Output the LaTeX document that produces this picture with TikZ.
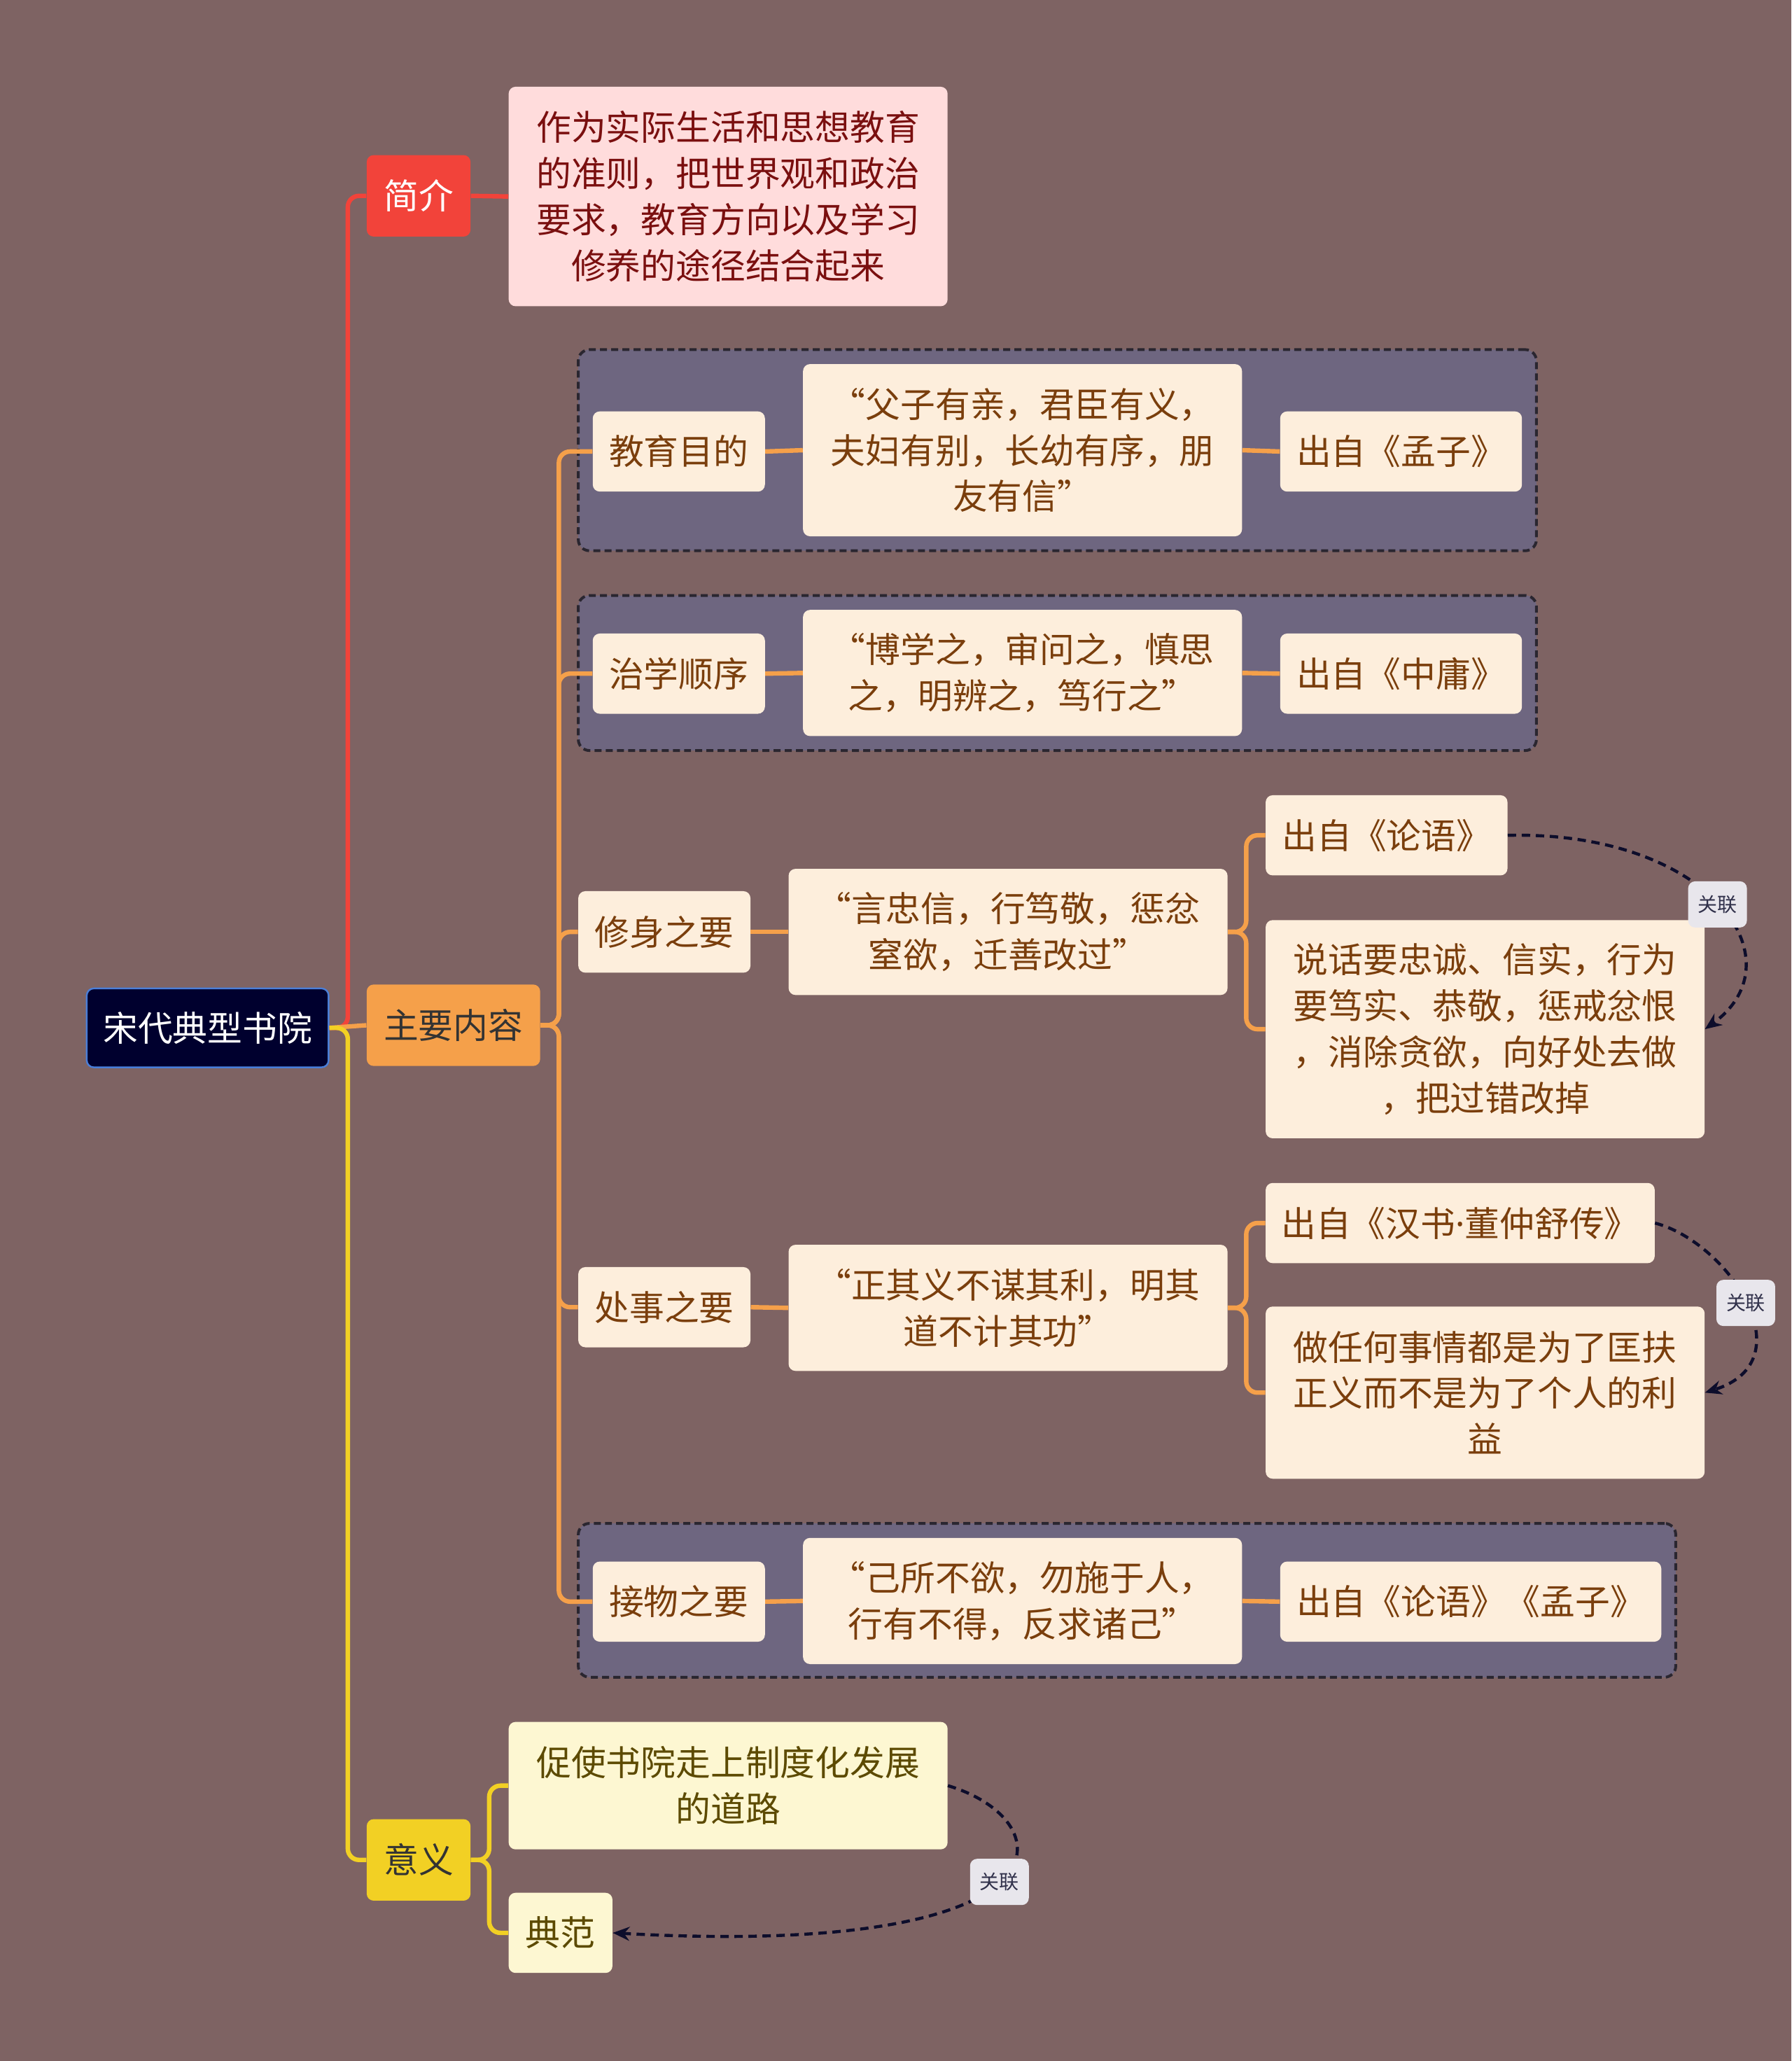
\documentclass[tikz,border=0pt]{standalone}
\usepackage{fontspec}
\setmainfont{Noto Sans CJK SC}
\newfontfamily\dotfont{Noto Sans}
\usetikzlibrary{arrows.meta}
\definecolor{bg}{HTML}{7E6363}
\definecolor{framefill}{HTML}{6E6680}
\definecolor{framedraw}{HTML}{2A2630}
\definecolor{cream}{HTML}{FDEEDC}
\definecolor{brown}{HTML}{7A3E0C}
\definecolor{pinkfill}{HTML}{FFDCDC}
\definecolor{darkred}{HTML}{7A0F0F}
\definecolor{lyellow}{HTML}{FDF7D2}
\definecolor{olive}{HTML}{5C4A00}
\definecolor{rootfill}{HTML}{00002E}
\definecolor{rootdraw}{HTML}{4A7ED8}
\definecolor{redc}{HTML}{F2433A}
\definecolor{orangec}{HTML}{F5A04A}
\definecolor{yellowc}{HTML}{F2D024}
\definecolor{relc}{HTML}{0D0D2B}
\definecolor{relfill}{HTML}{E8E6EC}
\begin{document}
\begin{tikzpicture}[x=0.939pt,y=-0.939pt,
  area/.style n args={4}{at={({(#1+#3)/2},{(#2+#4)/2})},
    minimum width={(#3-#1)*0.939pt}, minimum height={(#4-#2)*0.939pt}},
  base/.style={rounded corners=5pt, inner sep=0pt, align=center,
    font=\fontsize{24.9}{32.9}\selectfont},
  rootbox/.style={base, fill=rootfill, draw=rootdraw, line width=1.2pt, text=white},
  redbox/.style={base, fill=redc, text=white},
  orangebox/.style={base, fill=orangec, text=black!80},
  yellowbox/.style={base, fill=yellowc, text=black!80},
  pinkbox/.style={base, fill=pinkfill, text=darkred},
  creambox/.style={base, fill=cream, text=brown},
  ybox/.style={base, fill=lyellow, text=olive},
  groupframe/.style={rounded corners=8pt, inner sep=0pt, fill=framefill, draw=framedraw,
    line width=2pt, dash pattern=on 5pt off 3pt},
  rline/.style={draw=redc, line width=3.2pt, rounded corners=8pt},
  oline/.style={draw=orangec, line width=3.2pt, rounded corners=8pt},
  yline/.style={draw=yellowc, line width=3.2pt, rounded corners=8pt},
  relline/.style={draw=relc, line width=2.2pt, dash pattern=on 6pt off 4pt,
    -{Stealth[length=12pt,width=10pt]}},
  rellabel/.style={fill=relfill, rounded corners=5pt, inner sep=0pt, text=relc!85,
    minimum width=42pt, minimum height=33pt, font=\fontsize{14}{16}\selectfont, solid}
]
\fill[bg] (0,0) rectangle (1363,1568);
\useasboundingbox (0,0) rectangle (1363,1568);

% group frames
\node[groupframe, area={440}{266}{1169}{419}] (g1) {};
\node[groupframe, area={440}{453}{1169}{571}] (g2) {};
\node[groupframe, area={440}{1159}{1275}{1276}] (g3) {};

% main nodes
\node[rootbox, area={66}{752}{250}{812}] (root) {宋代典型书院};
\node[redbox, area={279}{118}{358}{180}] (jj) {简介};
\node[pinkbox, area={387}{66}{721}{233}] (jjt) {作为实际生活和思想教育\\的准则，把世界观和政治\\要求，教育方向以及学习\\修养的途径结合起来};
\node[orangebox, area={279}{749}{411}{811}] (zy) {主要内容};
\node[yellowbox, area={279}{1384}{358}{1446}] (yy) {意义};

% group 1
\node[creambox, area={451}{313}{582}{374}] (jymd) {教育目的};
\node[creambox, area={611}{277}{945}{408}] (jyq) {“父子有亲，君臣有义，\\夫妇有别，长幼有序，朋\\友有信”};
\node[creambox, area={974}{313}{1158}{374}] (jys) {出自《孟子》};
% group 2
\node[creambox, area={451}{482}{582}{543}] (zx) {治学顺序};
\node[creambox, area={611}{464}{945}{560}] (zxq) {“博学之，审问之，慎思\\之，明辨之，笃行之”};
\node[creambox, area={974}{482}{1158}{543}] (zxs) {出自《中庸》};
% xiushen
\node[creambox, area={440}{678}{571}{740}] (xs) {修身之要};
\node[creambox, area={600}{661}{934}{757}] (xsq) {“言忠信，行笃敬，惩忿\\窒欲，迁善改过”};
\node[creambox, area={963}{605}{1147}{666}] (xss) {出自《论语》};
\node[creambox, area={963}{700}{1297}{866}] (xse) {说话要忠诚、信实，行为\\要笃实、恭敬，惩戒忿恨\\，消除贪欲，向好处去做\\，把过错改掉};
% chushi
\node[creambox, area={440}{964}{571}{1025}] (cs) {处事之要};
\node[creambox, area={600}{947}{934}{1043}] (csq) {“正其义不谋其利，明其\\道不计其功”};
\node[creambox, area={963}{900}{1259}{961}] (css) {出自《汉书{\dotfont ·}董仲舒传》};
\node[creambox, area={963}{994}{1297}{1125}] (cse) {做任何事情都是为了匡扶\\正义而不是为了个人的利\\益};
% jiewu
\node[creambox, area={451}{1188}{582}{1249}] (jw) {接物之要};
\node[creambox, area={611}{1170}{945}{1266}] (jwq) {“己所不欲，勿施于人，\\行有不得，反求诸己”};
\node[creambox, area={974}{1188}{1264}{1249}] (jws) {出自《论语》《孟子》};
% yiyi
\node[ybox, area={387}{1310}{721}{1407}] (ys) {促使书院走上制度化发展\\的道路};
\node[ybox, area={387}{1440}{466}{1501}] (df) {典范};

% connectors
\draw[rline] (root.east) -- ++(14,0) |- (jj.west);
\draw[rline] (jj.east) -- (jjt.west);
\draw[oline] (root.east) -- (zy.west);
\draw[yline] (root.east) -- ++(14,0) |- (yy.west);

\draw[oline] (zy.east) -- ++(14,0) |- (jymd.west);
\draw[oline] (zy.east) -- ++(14,0) |- (zx.west);
\draw[oline] (zy.east) -- ++(14,0) |- (xs.west);
\draw[oline] (zy.east) -- ++(14,0) |- (cs.west);
\draw[oline] (zy.east) -- ++(14,0) |- (jw.west);

\draw[oline] (jymd.east) -- (jyq.west);
\draw[oline] (jyq.east) -- (jys.west);
\draw[oline] (zx.east) -- (zxq.west);
\draw[oline] (zxq.east) -- (zxs.west);
\draw[oline] (xs.east) -- (xsq.west);
\draw[oline] (xsq.east) -- ++(14,0) |- (xss.west);
\draw[oline] (xsq.east) -- ++(14,0) |- (xse.west);
\draw[oline] (cs.east) -- (csq.west);
\draw[oline] (csq.east) -- ++(14,0) |- (css.west);
\draw[oline] (csq.east) -- ++(14,0) |- (cse.west);
\draw[oline] (jw.east) -- (jwq.west);
\draw[oline] (jwq.east) -- (jws.west);

\draw[yline] (yy.east) -- ++(14,0) |- (ys.west);
\draw[yline] (yy.east) -- ++(14,0) |- (df.west);

% relations
\draw[relline] (xss.east) .. controls (1300,632) and (1370,730) .. node[rellabel, pos=0.5] (r1) {关联} (xse.east);
\draw[relline] (css.east) .. controls (1315,945) and (1375,1035) .. node[rellabel, pos=0.5] (r2) {关联} (cse.east);
\draw[relline] (ys.east) .. controls (810,1385) and (822,1490) .. node[rellabel, pos=0.5] (r3) {关联} (df.east);
\end{tikzpicture}
\end{document}
